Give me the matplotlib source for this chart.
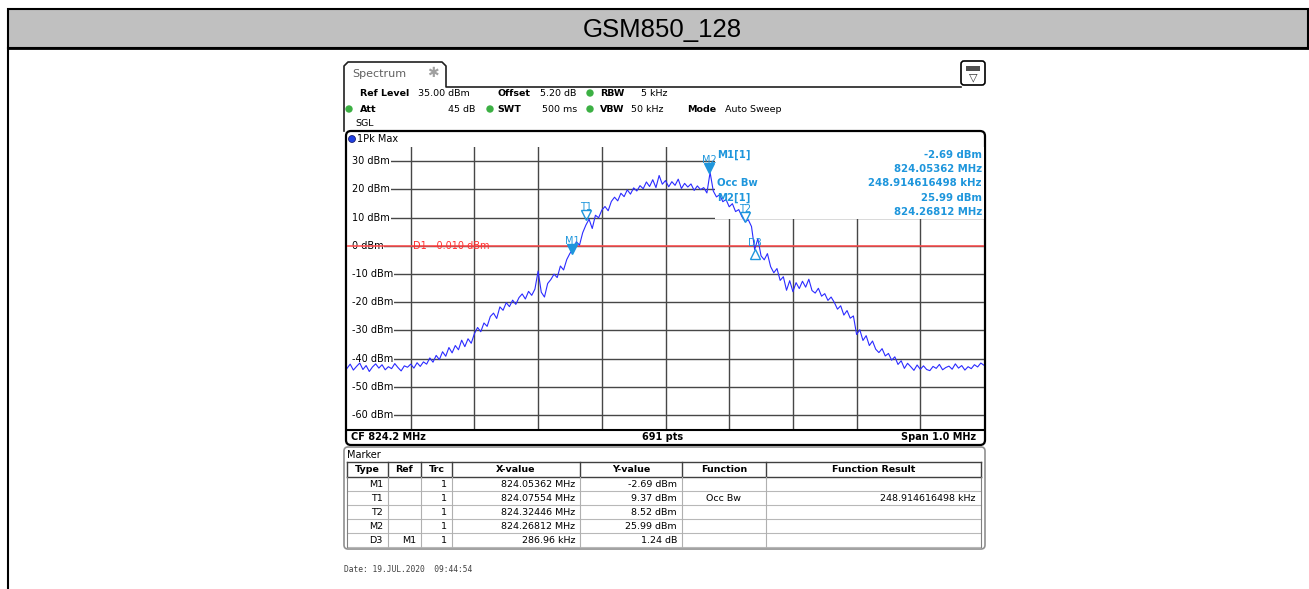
import matplotlib
matplotlib.use("Agg")
import matplotlib.pyplot as plt
import numpy as np
from matplotlib.patches import Rectangle, FancyBboxPatch, Circle
from matplotlib.transforms import offset_copy

W, H = 1309, 589

title = "GSM850_128"
center_mhz = 824.2
span_mhz = 1.0
ref_level = 35.0
sweep_points = 691
display_line = -0.010

# 1Pk Max trace, dBm, read every 5 kHz from -500 kHz to +500 kHz around CF
trace_dbm = [
    -43.5, -42.0, -44.1, -42.8, -41.6, -43.9, -42.5, -44.6, -43.0, -41.9,
    -43.4, -42.2, -44.0, -42.9, -43.6, -41.8, -43.2, -44.4, -42.6, -43.1, -42.0,
    -43.4, -41.5, -42.8, -41.2, -42.0, -39.8, -41.3, -38.9, -40.4, -37.6,
    -39.2, -36.1, -38.0, -35.4, -36.9, -33.5, -35.8, -33.0, -34.6, -31.2,
    -29.0, -30.5, -27.4, -28.6, -25.1, -23.9, -25.8, -21.7, -22.9, -20.2,
    -21.6, -19.3, -20.8, -18.4, -17.1, -18.9, -16.2, -17.6, -15.4, -9.0,
    -16.5, -18.2, -13.4, -12.0, -10.1, -11.3, -7.2, -8.6, -4.9, -2.7,
    -1.2, 1.4, 0.2, 4.6, 7.3, 9.4, 6.1, 10.8, 9.9, 12.6,
    13.9, 12.4, 15.7, 17.2, 15.9, 18.6, 17.4, 19.8, 18.3, 20.5,
    19.4, 21.3, 20.2, 22.6, 21.0, 23.4, 20.6, 24.9, 21.8, 23.1,
    20.9, 22.7, 21.4, 23.6, 20.3, 22.1, 20.8, 21.9, 19.6, 21.2,
    19.9, 20.6, 18.7, 26.0, 19.4, 17.3, 18.1, 15.6, 16.4, 13.8,
    14.9, 12.1, 12.8, 10.3, 8.5, 9.2, 6.8, -1.4, 2.5, -3.6,
    -5.0, -2.8, -7.4, -9.6, -8.1, -12.3, -11.0, -15.8, -12.4, -16.3,
    -13.1, -15.2, -12.6, -14.7, -11.9, -15.9, -16.8, -15.1, -17.9, -17.0,
    -19.4, -18.2, -20.1, -22.5, -21.3, -24.6, -23.0, -25.7, -24.9, -31.5,
    -29.8, -33.6, -31.9, -35.4, -33.8, -36.7, -37.9, -36.5, -39.1, -38.2,
    -40.6, -39.4, -42.1, -40.8, -43.5, -41.7, -42.9, -44.2, -42.3, -43.8,
    -42.6, -43.9, -44.3, -42.8, -43.5, -42.1, -44.0, -43.2, -42.7, -43.8,
    -41.9, -43.4, -42.5, -44.1, -42.9, -43.6, -42.2, -43.0, -41.6, -42.4,
]
trace_step_khz = 5

# marker table
marker_types = ["M1", "T1", "T2", "M2", "D3"]
marker_refs = ["", "", "", "", "M1"]
marker_trc = ["1", "1", "1", "1", "1"]
marker_x = [824.05362, 824.07554, 824.32446, 824.26812, 286.96]
marker_y = [-2.69, 9.37, 8.52, 25.99, 1.24]
marker_func = ["", "Occ Bw", "", "", ""]
occ_bw_khz = 248.914616498

header_rows = [
    [("Ref Level", 360, "bold"), ("35.00 dBm", 418, "normal"), ("Offset", 497, "bold"),
     ("5.20 dB", 540, "normal"), ("RBW", 600, "bold"), ("5 kHz", 641, "normal")],
    [("Att", 360, "bold"), ("45 dB", 448, "normal"), ("SWT", 497, "bold"),
     ("500 ms", 542, "normal"), ("VBW", 600, "bold"), ("50 kHz", 631, "normal"),
     ("Mode", 687, "bold"), ("Auto Sweep", 725, "normal")],
    [("SGL", 355, "normal")],
]
header_y = [93, 109, 123]
green_dots = [(590, 93), (349, 109), (490, 109), (590, 109)]

blue_trace = "#2b2bff"
marker_col = "#1e96dc"
grid_col = "#474747"

fig = plt.figure(figsize=(W / 100, H / 100), dpi=100)
bg = fig.add_axes([0, 0, 1, 1])
bg.set_xlim(0, W)
bg.set_ylim(H, 0)
bg.axis("off")

# title bar
bg.add_patch(Rectangle((8, 9), W - 9, 39, facecolor="#c0c0c0", edgecolor="black", lw=1.5))
bg.plot([8, W], [48, 48], color="black", lw=2)
bg.plot([8, 8], [48, H], color="black", lw=1.5)
bg.text(662, 30, title, ha="center", va="center", fontsize=18.5, family="Liberation Sans")

# spectrum tab and icon
bg.plot([344, 344, 348, 442, 446, 446, 961], [131, 66, 62, 62, 66, 87, 87], color="#202020", lw=1.2)
bg.text(352, 74, "Spectrum", fontsize=8, color="#606060", va="center")
bg.text(433, 73, "\u2731", fontsize=10, color="#a0a0a0", va="center", ha="center")
bg.add_patch(FancyBboxPatch((961, 61), 24, 24, boxstyle="round,pad=0,rounding_size=3",
                            facecolor="white", edgecolor="black", lw=1.2))
bg.add_patch(Rectangle((966, 66), 14, 5, facecolor="#505050", edgecolor="none"))
bg.text(973, 77, "\u25bd", fontsize=8, ha="center", va="center", color="#303030")

for row, yy in zip(header_rows, header_y):
    for txt, xx, wt in row:
        bg.text(xx, yy, txt, fontsize=6.8, fontweight=wt, va="center", ha="left")
for gx, gy in green_dots:
    bg.add_patch(Circle((gx, gy), 3, color="#3cb043"))

# plot frame
bg.add_patch(FancyBboxPatch((346, 131), 639, 314, boxstyle="round,pad=0,rounding_size=5",
                            facecolor="white", edgecolor="black", lw=1.6))
bg.add_patch(Circle((352, 139), 3.5, facecolor="#2040e0", edgecolor="#101060", lw=0.5))
bg.text(357, 139, "1Pk Max", fontsize=7, va="center")
bg.text(351, 437, f"CF {center_mhz:.1f} MHz", fontsize=7, fontweight="bold", va="center")
bg.text(663, 437, f"{sweep_points} pts", fontsize=7, fontweight="bold", va="center", ha="center")
bg.text(976, 437, f"Span {span_mhz:.1f} MHz", fontsize=7, fontweight="bold", va="center", ha="right")

# marker table
bg.add_patch(FancyBboxPatch((344, 447), 641, 102, boxstyle="round,pad=0,rounding_size=4",
                            facecolor="white", edgecolor="#909090", lw=1.2))
bg.text(347, 455, "Marker", fontsize=7, va="center")
col_edges = [347, 388, 421, 452, 580, 682, 766, 981]
col_names = ["Type", "Ref", "Trc", "X-value", "Y-value", "Function", "Function Result"]
head_top, head_bot, row_h = 462, 477, 14
n_rows = len(marker_types)
table_bot = head_bot + row_h * n_rows
bg.plot([col_edges[0], col_edges[-1]], [head_top, head_top], color="#404040", lw=1)
bg.plot([col_edges[0], col_edges[-1]], [head_bot, head_bot], color="#404040", lw=1)
for i in range(1, n_rows + 1):
    bg.plot([col_edges[0], col_edges[-1]], [head_bot + row_h * i] * 2, color="#b8b8b8", lw=0.8)
for k, xe in enumerate(col_edges):
    bg.plot([xe, xe], [head_top, head_bot], color="#404040", lw=1)
    bg.plot([xe, xe], [head_bot, table_bot], color="#b0b0b0" if 0 < k < len(col_edges) - 1 else "#808080", lw=0.8)
for k, name in enumerate(col_names):
    bg.text((col_edges[k] + col_edges[k + 1]) / 2, (head_top + head_bot) / 2 + 0.5, name,
            fontsize=6.8, fontweight="bold", ha="center", va="center")

x_txt, y_txt, res_txt = [], [], []
for typ, xv, yv, fn in zip(marker_types, marker_x, marker_y, marker_func):
    if typ.startswith("D"):
        x_txt.append(f"{xv:.2f} kHz")
        y_txt.append(f"{yv:.2f} dB")
    else:
        x_txt.append(f"{xv:.5f} MHz")
        y_txt.append(f"{yv:.2f} dBm")
    res_txt.append(f"{occ_bw_khz:.9f} kHz" if fn == "Occ Bw" else "")

for i in range(n_rows):
    yc = head_bot + row_h * i + row_h / 2 + 0.5
    cells = [marker_types[i], marker_refs[i], marker_trc[i], x_txt[i], y_txt[i], marker_func[i], res_txt[i]]
    for k, s in enumerate(cells):
        if k == 5:
            bg.text((col_edges[k] + col_edges[k + 1]) / 2, yc, s, fontsize=6.8, ha="center", va="center")
        else:
            bg.text(col_edges[k + 1] - 5, yc, s, fontsize=6.8, ha="right", va="center")

bg.text(344, 569, "Date: 19.JUL.2020  09:44:54", fontsize=5.7, family="DejaVu Sans Mono",
        color="#404040", va="center")

# spectrum plot
ax = fig.add_axes([347 / W, 1 - 430 / H, 637 / W, 283 / H])
ax.set_facecolor("none")
f0, f1 = center_mhz - span_mhz / 2, center_mhz + span_mhz / 2
ax.set_xlim(f0, f1)
ax.set_ylim(ref_level - 100.35, ref_level)
ax.set_xticks([])
ax.set_yticks([])
for side in ("top", "left", "right"):
    ax.spines[side].set_visible(False)
ax.spines["bottom"].set_color("black")
ax.spines["bottom"].set_linewidth(1.5)

div = span_mhz / 10
for k in range(1, 10):
    ax.axvline(f0 + k * div, color=grid_col, lw=1, zorder=1)
for lvl in range(-60, 31, 10):
    ax.plot([f0 + 0.008, f1], [lvl, lvl], color=grid_col, lw=1, zorder=1)
    ax.text(f0 + 0.0078, lvl, f"{lvl} dBm", fontsize=7, ha="left", va="center", zorder=2,
            bbox=dict(facecolor="white", edgecolor="none", pad=0.6))
ax.axhline(display_line, color="#ff4a4a", lw=1.1, zorder=2.5)
ax.text(f0 + 0.1035, display_line, f"D1  {display_line:.3f} dBm", color="#ff3030", fontsize=7,
        ha="left", va="center", zorder=2.6)

# white box under the marker info readout
ax.add_patch(Rectangle((715, 146.5), 270, 72.5, transform=bg.transData, facecolor="white",
                       edgecolor="none", zorder=1.5))

freqs = center_mhz + np.arange(-500, 501, trace_step_khz) / 1000.0
ax.plot(freqs, trace_dbm, color=blue_trace, lw=0.8, zorder=3)

# markers on the trace
m_freq = list(marker_x[:4]) + [marker_x[0] + marker_x[4] / 1000.0]
m_lvl = list(marker_y[:4]) + [marker_y[0] + marker_y[4]]
down = offset_copy(ax.transData, fig=fig, y=3.2, units="points")
up = offset_copy(ax.transData, fig=fig, y=-3.2, units="points")
for typ, fx, ly in zip(marker_types, m_freq, m_lvl):
    if typ.startswith("M"):
        ax.plot(fx, ly, marker="v", ms=6.5, color=marker_col, transform=down, zorder=4)
        lab_off = 9.2
    elif typ.startswith("T"):
        ax.plot(fx, ly, marker="v", ms=6.5, mfc="none", mec=marker_col, mew=1, transform=down, zorder=4)
        lab_off = 8.8
    else:
        ax.plot(fx, ly, marker="^", ms=6.5, mfc="none", mec=marker_col, mew=1, transform=up, zorder=4)
        lab_off = 4.6
    lab_t = offset_copy(ax.transData, fig=fig, y=lab_off, units="points")
    ax.text(fx, ly, typ, color=marker_col, fontsize=7, ha="center", va="center", transform=lab_t, zorder=4)

# marker readout
info_left = ["M1[1]", "", "Occ Bw", "M2[1]", ""]
info_right = [y_txt[0], x_txt[0], res_txt[1], y_txt[3], x_txt[3]]
info_y = [155, 169, 183, 198, 212]
for l, r, yy in zip(info_left, info_right, info_y):
    ax.text(717, yy, l, transform=bg.transData, color=marker_col, fontsize=7.3, fontweight="bold",
            ha="left", va="center", zorder=5)
    ax.text(982, yy, r, transform=bg.transData, color=marker_col, fontsize=7.3, fontweight="bold",
            ha="right", va="center", zorder=5)

fig.savefig("out.png", dpi=100)
